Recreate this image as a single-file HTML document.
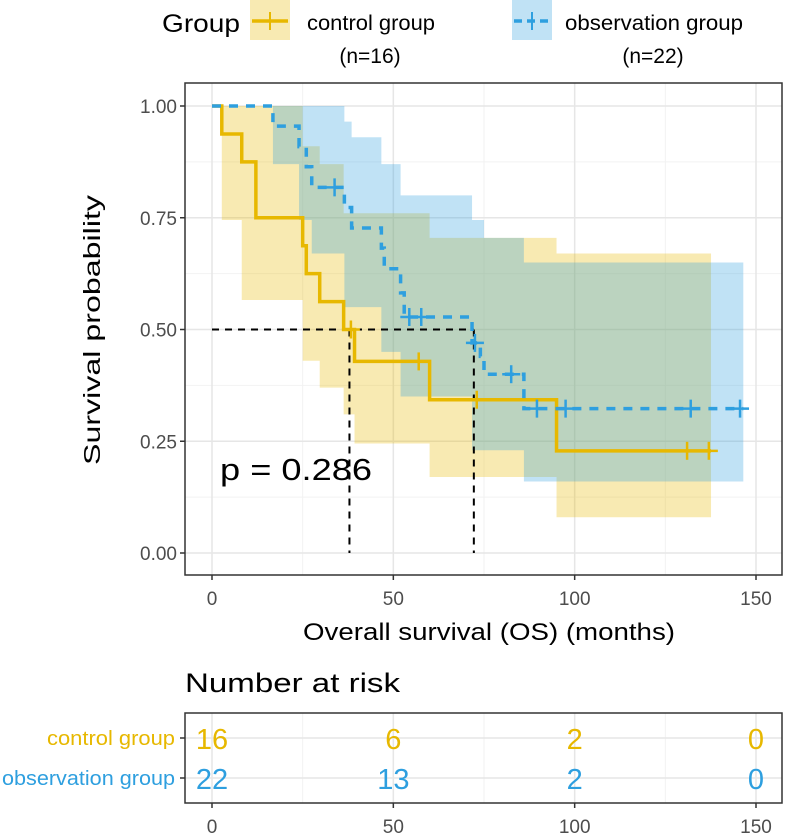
<!DOCTYPE html>
<html><head><meta charset="utf-8"><style>
body{margin:0;background:#fff;}
svg{display:block;font-family:"Liberation Sans",sans-serif;}
</style></head><body>
<svg id="chart" width="786" height="835" viewBox="0 0 786 835" xmlns="http://www.w3.org/2000/svg">
<g id="legend">
  <text x="162" y="32" font-size="25" textLength="78" lengthAdjust="spacingAndGlyphs" fill="#000">Group</text>
  <g>
    <rect x="250" y="0" width="40" height="40" fill="#E7B800" fill-opacity="0.3"/>
    <line x1="252" y1="21" x2="288" y2="21" stroke="#E7B800" stroke-width="3.5"/>
    <line x1="270" y1="12" x2="270" y2="30" stroke="#E7B800" stroke-width="2"/>
    <text x="307" y="30" font-size="21" textLength="128" lengthAdjust="spacingAndGlyphs">control group</text>
    <text x="370" y="63" font-size="21" text-anchor="middle">(n=16)</text>
  </g>
  <g>
    <rect x="512" y="0" width="40" height="40" fill="#2E9FDF" fill-opacity="0.3"/>
    <line x1="514" y1="21" x2="550" y2="21" stroke="#2E9FDF" stroke-width="3.5" stroke-dasharray="8,5"/>
    <line x1="532" y1="12" x2="532" y2="30" stroke="#2E9FDF" stroke-width="2"/>
    <text x="565" y="30" font-size="21" textLength="178" lengthAdjust="spacingAndGlyphs">observation group</text>
    <text x="653" y="63" font-size="21" text-anchor="middle">(n=22)</text>
  </g>
</g>
<g id="plot"></g>
<text x="100" y="330" font-size="23" text-anchor="middle" textLength="270" lengthAdjust="spacingAndGlyphs" transform="rotate(-90 100 330)">Survival probability</text>
<text x="489" y="640" font-size="24" text-anchor="middle" textLength="372" lengthAdjust="spacingAndGlyphs">Overall survival (OS) (months)</text>
<text x="185" y="692" font-size="27" textLength="215" lengthAdjust="spacingAndGlyphs">Number at risk</text>
<g id="risk"></g>
</svg>
<script>
// ---- data ----
const ctrlTime  = [0, 2.7, 8.2, 12.1, 25, 26, 29.7, 36.3, 39.3, 60, 95];
const ctrlSurv  = [1, 0.9375, 0.875, 0.75, 0.6875, 0.625, 0.5625, 0.5, 0.4286, 0.3429, 0.2286];
const ctrlLower = [1, 0.745, 0.566, 0.566, 0.43, 0.43, 0.37, 0.31, 0.245, 0.17, 0.08];
const ctrlUpper = [1, 1, 1, 1, 0.91, 0.91, 0.87, 0.76, 0.76, 0.705, 0.67];
const ctrlCensor = [38.3, 57, 73, 131, 137];
const ctrlEnd = 137.6;
const obsTime  = [0, 16.8, 24, 26, 27.5, 36.5, 38.5, 46.7, 47.5, 52, 53, 71.7, 74, 75, 86];
const obsSurv  = [1, 0.955, 0.909, 0.864, 0.818, 0.773, 0.727, 0.682, 0.636, 0.582, 0.528, 0.47, 0.44, 0.40, 0.323];
const obsLower = [1, 0.87, 0.745, 0.745, 0.67, 0.55, 0.55, 0.45, 0.45, 0.35, 0.35, 0.23, 0.23, 0.23, 0.16];
const obsUpper = [1, 1, 1, 1, 1, 0.965, 0.93, 0.87, 0.87, 0.80, 0.80, 0.745, 0.745, 0.705, 0.65];
const obsCensor = [33.8, 54.4, 57.7, 72.5, 82.5, 89.6, 97.5, 132, 145.6];
const obsEnd = 146.5;
const medians = [37.9, 72.2];
const xTicks = [0, 50, 100, 150];
const yTicks = [0, 0.25, 0.5, 0.75, 1];
const yTickLabels = ["0.00", "0.25", "0.50", "0.75", "1.00"];
const riskGroups = ["control group", "observation group"];
const riskCtrl = [16, 6, 2, 0];
const riskObs = [22, 13, 2, 0];
const pText = "p = 0.286";

const NS = "http://www.w3.org/2000/svg";
const X = t => 212 + t * (756 - 212) / 150;
const Y = s => 553 - s * 447;
const CTRL = "#E7B800", OBS = "#2E9FDF";
function mk(parent, tag, attrs) {
  const e = document.createElementNS(NS, tag);
  for (const k in attrs) e.setAttribute(k, attrs[k]);
  parent.appendChild(e);
  return e;
}
const plot = document.getElementById("plot");
const bg = mk(plot, "rect", {x:185, y:83, width:597, height:492, fill:"#fff"});


[25, 75, 125].forEach(t => mk(plot, "line", {x1:X(t), x2:X(t), y1:83, y2:575, stroke:"#f2f2f2", "stroke-width":1}));
[0.125, 0.375, 0.625, 0.875].forEach(s => mk(plot, "line", {x1:185, x2:782, y1:Y(s), y2:Y(s), stroke:"#f2f2f2", "stroke-width":1}));
xTicks.forEach(t => mk(plot, "line", {x1:X(t), x2:X(t), y1:83, y2:575, stroke:"#e6e6e6", "stroke-width":1.5}));
yTicks.forEach(s => mk(plot, "line", {x1:185, x2:782, y1:Y(s), y2:Y(s), stroke:"#e6e6e6", "stroke-width":1.5}));

function stepPath(times, vals, end) {
  let d = "M" + X(times[0]) + "," + Y(vals[0]);
  for (let i = 1; i < times.length; i++) d += " H" + X(times[i]) + " V" + Y(vals[i]);
  d += " H" + X(end);
  return d;
}
function ribbon(times, lo, up, end) {
  let d = "M" + X(times[0]) + "," + Y(up[0]);
  for (let i = 1; i < times.length; i++) d += " H" + X(times[i]) + " V" + Y(up[i]);
  d += " H" + X(end) + " V" + Y(lo[lo.length - 1]);
  for (let i = times.length - 1; i >= 1; i--) d += " H" + X(times[i]) + " V" + Y(lo[i - 1]);
  d += " H" + X(times[0]) + " Z";
  return d;
}
function survAt(times, vals, t) {
  let v = vals[0];
  for (let i = 0; i < times.length; i++) if (times[i] <= t) v = vals[i];
  return v;
}
const rc = mk(plot, "path", {d:ribbon(ctrlTime, ctrlLower, ctrlUpper, ctrlEnd), fill:CTRL, "fill-opacity":0.3});


const ro = mk(plot, "path", {d:ribbon(obsTime, obsLower, obsUpper, obsEnd), fill:OBS, "fill-opacity":0.3});


const mh = mk(plot, "line", {x1:X(0), x2:X(medians[1]), y1:Y(0.5), y2:Y(0.5), stroke:"#000", "stroke-width":2, "stroke-dasharray":"7,6"});


medians.forEach(m => {
  const l = mk(plot, "line", {x1:X(m), x2:X(m), y1:Y(0.5), y2:Y(0), stroke:"#000", "stroke-width":2, "stroke-dasharray":"7,6"});
  
  
});
const cc = mk(plot, "path", {d:stepPath(ctrlTime, ctrlSurv, ctrlEnd), fill:"none", stroke:CTRL, "stroke-width":3.5});


const oc = mk(plot, "path", {d:stepPath(obsTime, obsSurv, obsEnd), fill:"none", stroke:OBS, "stroke-width":3.5, "stroke-dasharray":"9,8"});


function censor(t, s, col) {
  const g = mk(plot, "g", {stroke:col, "stroke-width":2.5});
  
  
  mk(g, "line", {x1:X(t) - 9, x2:X(t) + 9, y1:Y(s), y2:Y(s)});
  mk(g, "line", {x1:X(t), x2:X(t), y1:Y(s) - 9, y2:Y(s) + 9});
}
ctrlCensor.forEach(t => censor(t, survAt(ctrlTime, ctrlSurv, t), CTRL));
obsCensor.forEach(t => censor(t, survAt(obsTime, obsSurv, t), OBS));
const pv = mk(plot, "text", {x:220, y:480, "font-size":31, fill:"#000", textLength:152, lengthAdjust:"spacingAndGlyphs"});
pv.textContent = pText;


mk(plot, "rect", {x:185, y:83, width:597, height:492, fill:"none", stroke:"#333", "stroke-width":1.5});
xTicks.forEach(t => {
  mk(plot, "line", {x1:X(t), x2:X(t), y1:575, y2:580, stroke:"#333", "stroke-width":1.5});
  const tx = mk(plot, "text", {x:X(t), y:605, "font-size":19, fill:"#4d4d4d", "text-anchor":"middle"});
  tx.textContent = t;
  
  
});
yTicks.forEach((s, i) => {
  mk(plot, "line", {x1:180, x2:185, y1:Y(s), y2:Y(s), stroke:"#333", "stroke-width":1.5});
  const ty = mk(plot, "text", {x:177, y:Y(s) + 7, "font-size":19, fill:"#4d4d4d", "text-anchor":"end"});
  ty.textContent = yTickLabels[i];
  
  
});
const risk = document.getElementById("risk");
const RT = 713, RB = 803;
const rowY = [738, 778];
mk(risk, "rect", {x:185, y:RT, width:597, height:RB - RT, fill:"#fff"});
[25, 75, 125].forEach(t => mk(risk, "line", {x1:X(t), x2:X(t), y1:RT, y2:RB, stroke:"#f2f2f2"}));
xTicks.forEach(t => mk(risk, "line", {x1:X(t), x2:X(t), y1:RT, y2:RB, stroke:"#e6e6e6", "stroke-width":1.5}));
rowY.forEach(y => mk(risk, "line", {x1:185, x2:782, y1:y, y2:y, stroke:"#e6e6e6", "stroke-width":1.5}));
[riskCtrl, riskObs].forEach((arr, r) => {
  const col = r === 0 ? CTRL : OBS;
  arr.forEach((n, i) => {
    const t = mk(risk, "text", {x:X(xTicks[i]), y:rowY[r] + 11, "font-size":29, fill:col, "text-anchor":"middle"});
    t.textContent = n;
    
    
  });
  const lab = mk(risk, "text", {x:175, y:rowY[r] + 7, "font-size":20, fill:col, "text-anchor":"end", textLength: r === 0 ? 128 : 173, lengthAdjust:"spacingAndGlyphs"});
  lab.textContent = riskGroups[r];
  
  
  mk(risk, "line", {x1:180, x2:185, y1:rowY[r], y2:rowY[r], stroke:"#333", "stroke-width":1.5});
});
mk(risk, "rect", {x:185, y:RT, width:597, height:RB - RT, fill:"none", stroke:"#333", "stroke-width":1.5});
xTicks.forEach(t => {
  mk(risk, "line", {x1:X(t), x2:X(t), y1:RB, y2:RB + 5, stroke:"#333", "stroke-width":1.5});
  const tx = mk(risk, "text", {x:X(t), y:833, "font-size":19, fill:"#4d4d4d", "text-anchor":"middle"});
  tx.textContent = t;
  
  
});
</script>
</body></html>
